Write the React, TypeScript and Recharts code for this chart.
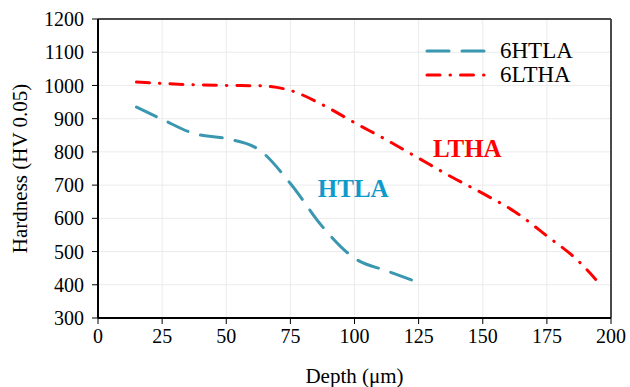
import React from "react";
import {
  LineChart,
  Line,
  XAxis,
  YAxis,
  CartesianGrid,
  ReferenceLine,
  ReferenceDot,
} from "recharts";

const FONT = "'Liberation Serif', 'Times New Roman', serif";

// depth (µm) and hardness (HV 0.05)
const depthHTLA = [15, 25, 37.5, 50, 62.5, 75, 87.5, 100, 112.5, 125];
const hardnessHTLA = [935, 898, 855, 840, 808, 705, 575, 480, 442, 407];

const depthLTHA = [15, 25, 37.5, 50, 62.5, 75, 87.5, 100, 112.5, 125, 137.5, 150, 162.5, 175, 187.5, 195];
const hardnessLTHA = [1010, 1006, 1002, 1000, 999, 985, 942, 888, 836, 781, 726, 675, 620, 547, 470, 408];

const xTicks = [0, 25, 50, 75, 100, 125, 150, 175, 200];
const yTicks = [300, 400, 500, 600, 700, 800, 900, 1000, 1100, 1200];

const TEAL = "#3a97b0";
const RED = "#ff0000";

const htlaData = depthHTLA.map((x, i) => ({ x, y: hardnessHTLA[i] }));
const lthaData = depthLTHA.map((x, i) => ({ x, y: hardnessLTHA[i] }));

const series = [
  { name: "6HTLA", data: htlaData, color: TEAL, dash: "22 13" },
  { name: "6LTHA", data: lthaData, color: RED, dash: "13 10 0.5 10" },
];

export default function App() {
  return (
    <div
      className="chart-root"
      style={{
        position: "absolute",
        left: 0,
        top: 0,
        width: 630,
        height: 387,
        background: "#fff",
        fontFamily: FONT,
      }}
    >
      <style>{`.chart-root text, .chart-root span { font-family: ${FONT} !important; }`}</style>
      <LineChart width={630} height={387} margin={{ top: 19, right: 19, bottom: 0, left: 0 }}>
        <CartesianGrid stroke="#ebebeb" strokeWidth={1} />
        <XAxis
          type="number"
          dataKey="x"
          domain={[0, 200]}
          ticks={xTicks}
          height={69}
          axisLine={{ stroke: "#000", strokeWidth: 2 }}
          tickLine={{ stroke: "#000" }}
          tickSize={6}
          tickMargin={5}
          tick={{ fill: "#000", fontSize: 20 }}
          label={{
            value: "Depth (μm)",
            position: "insideBottom",
            offset: 4,
            fill: "#000",
            fontSize: 21,
          }}
        />
        <YAxis
          type="number"
          domain={[300, 1200]}
          ticks={yTicks}
          width={98}
          axisLine={{ stroke: "#000", strokeWidth: 2 }}
          tickLine={{ stroke: "#000" }}
          tickSize={6}
          tickMargin={8}
          tick={{ fill: "#000", fontSize: 20 }}
          label={{
            value: "Hardness (HV 0.05)",
            angle: -90,
            position: "insideLeft",
            offset: 20,
            fill: "#000",
            fontSize: 21,
            style: { textAnchor: "middle" },
          }}
        />
        <ReferenceLine y={1200} stroke="#4a4a4a" strokeWidth={2} />
        <ReferenceLine x={200} stroke="#4a4a4a" strokeWidth={2} />
        {series.map((s) => (
          <Line
            key={s.name}
            data={s.data}
            dataKey="y"
            name={s.name}
            type="monotone"
            stroke={s.color}
            strokeWidth={3}
            strokeDasharray={s.dash}
            strokeLinecap="round"
            dot={false}
            activeDot={false}
            isAnimationActive={false}
          />
        ))}
        <ReferenceDot
          x={99.5}
          y={691}
          r={1}
          fill="none"
          stroke="none"
          label={{ value: "HTLA", position: "center", fill: "#0f9acb", fontSize: 25, fontWeight: "bold" }}
        />
        <ReferenceDot
          x={144}
          y={812}
          r={1}
          fill="none"
          stroke="none"
          label={{ value: "LTHA", position: "center", fill: RED, fontSize: 25, fontWeight: "bold" }}
        />
      </LineChart>

      <div style={{ position: "absolute", left: 424, top: 39 }}>
        {series.map((s) => (
          <div key={s.name} style={{ display: "flex", alignItems: "center", height: 24 }}>
            <svg width={66} height={10}>
              <line
                x1={3}
                y1={5}
                x2={63}
                y2={5}
                stroke={s.color}
                strokeWidth={3}
                strokeDasharray={s.dash}
                strokeLinecap="round"
              />
            </svg>
            <span style={{ marginLeft: 10, fontSize: 23, color: "#000", lineHeight: "24px" }}>{s.name}</span>
          </div>
        ))}
      </div>
    </div>
  );
}
